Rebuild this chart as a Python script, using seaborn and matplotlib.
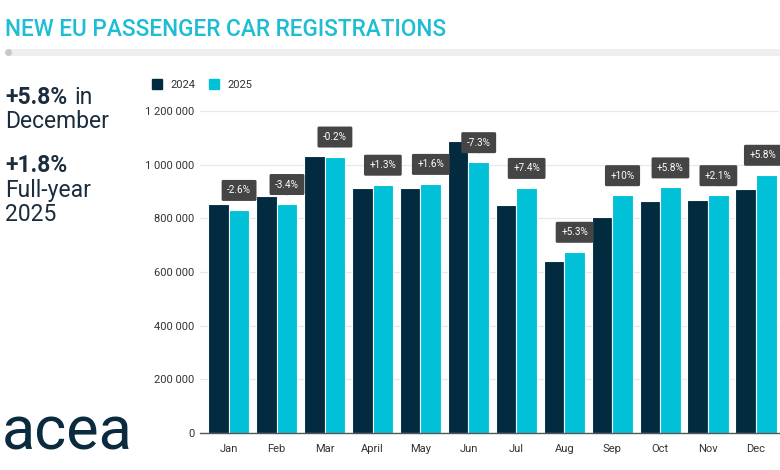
import pandas as pd
import matplotlib.pyplot as plt
import seaborn as sns
from matplotlib.lines import Line2D
from matplotlib.ticker import FuncFormatter

# Monthly registrations
months = ["Jan", "Feb", "Mar", "April", "May", "Jun", "Jul", "Aug", "Sep", "Oct", "Nov", "Dec"]
reg_2024 = [853000, 883000, 1032000, 913000, 913000, 1088000, 850000, 641000, 805000, 865000, 868000, 909000]
reg_2025 = [831000, 853000, 1030000, 925000, 928000, 1009000, 913000, 675000, 886000, 915000, 886000, 962000]
pct_change = ["-2.6%", "-3.4%", "-0.2%", "+1.3%", "+1.6%", "-7.3%", "+7.4%", "+5.3%", "+10%", "+5.8%", "+2.1%", "+5.8%"]
years = ["2024", "2025"]

DARK = "#022b40"
CYAN = "#00c1d8"
BOX = "#454545"

df = pd.DataFrame({
    "month": months * 2,
    "year": ["2024"] * 12 + ["2025"] * 12,
    "value": reg_2024 + reg_2025,
})

sns.set_style("white")
plt.rcParams["font.family"] = ["Roboto", "DejaVu Sans"]

fig = plt.figure(figsize=(7.8, 4.7), dpi=100)
ax = fig.add_axes([200 / 780, 37 / 470, 579 / 780, 322 / 470])

sns.barplot(data=df, x="month", y="value", hue="year", hue_order=years,
            palette=[DARK, CYAN], width=0.86, edgecolor="white", linewidth=0.8,
            saturation=1, legend=False, ax=ax)

ax.set_xlim(-0.6, 11.48)
ax.set_ylim(0, 1200000)
ax.set_yticks(range(0, 1200001, 200000))
ax.yaxis.set_major_formatter(FuncFormatter(lambda v, p: f"{int(v):,}".replace(",", " ")))
ax.grid(axis="y", color="#e8e8e8", linewidth=0.9)
ax.set_axisbelow(True)
for s in ["top", "right", "left"]:
    ax.spines[s].set_visible(False)
ax.spines["bottom"].set_color("#555555")
ax.spines["bottom"].set_linewidth(1)
ax.tick_params(axis="both", length=0, labelsize=8, labelcolor="#333333")
ax.tick_params(axis="x", pad=8)
ax.tick_params(axis="y", pad=4)
ax.set_xlabel("")
ax.set_ylabel("")

# percentage change callouts above the 2025 bars
n = len(pct_change)
for i, (bar, txt) in enumerate(zip(ax.containers[1], pct_change)):
    x = bar.get_x() + bar.get_width() / 2
    h = bar.get_height()
    dx = -2.5 if i == n - 1 else 0
    ax.annotate(txt, xy=(x, h), xytext=(dx, 10.5), textcoords="offset points",
                ha="center", va="bottom", fontsize=7.2, color="white",
                bbox=dict(boxstyle="round,pad=0.55,rounding_size=0.15", fc=BOX, ec="none"),
                annotation_clip=False)
    ax.annotate("\u25bc", xy=(x, h), xytext=(dx, 6), textcoords="offset points",
                ha="center", va="bottom", fontsize=4, color=BOX,
                family="DejaVu Sans", annotation_clip=False)

# legend
handles = [Line2D([0], [0], marker="s", linestyle="", markersize=7,
                  markerfacecolor=c, markeredgecolor=c) for c in [DARK, CYAN]]
fig.legend(handles, years, loc="center left", bbox_to_anchor=(136 / 780, 1 - 85 / 470),
           ncol=2, frameon=False, fontsize=8, handletextpad=0.2, columnspacing=0.7,
           labelcolor="#333333")

# title and divider
fig.text(5 / 780, 1 - 30 / 470, "NEW EU PASSENGER CAR REGISTRATIONS", fontsize=16.3,
         fontweight="medium", color="#1dbdd3", va="center", ha="left")
fig.add_artist(Line2D([8 / 780, 1.0], [1 - 52 / 470] * 2, transform=fig.transFigure,
                      color="#eeeeee", linewidth=5, solid_capstyle="butt"))
fig.add_artist(Line2D([8 / 780], [1 - 52 / 470], transform=fig.transFigure, marker="o",
                      markersize=4, color="#c8c8c8", linestyle=""))

# key figures on the left
fig.text(5 / 780, 1 - 97 / 470, "+5.8%", fontsize=16.5, fontweight="bold", color="#1b2d3c", va="center")
fig.text(74 / 780, 1 - 97 / 470, "in", fontsize=16.5, color="#1b2d3c", va="center")
fig.text(5 / 780, 1 - 122 / 470, "December", fontsize=16.5, color="#1b2d3c", va="center")
fig.text(5 / 780, 1 - 165 / 470, "+1.8%", fontsize=16.5, fontweight="bold", color="#1b2d3c", va="center")
fig.text(5 / 780, 1 - 190 / 470, "Full-year", fontsize=16.5, color="#1b2d3c", va="center")
fig.text(5 / 780, 1 - 215 / 470, "2025", fontsize=16.5, color="#1b2d3c", va="center")

# logo wordmark
fig.text(2 / 780, 1 - 433 / 470, "acea", fontsize=44, color="#0b2a3e", va="center", ha="left")

fig.savefig("out.png", dpi=100)
